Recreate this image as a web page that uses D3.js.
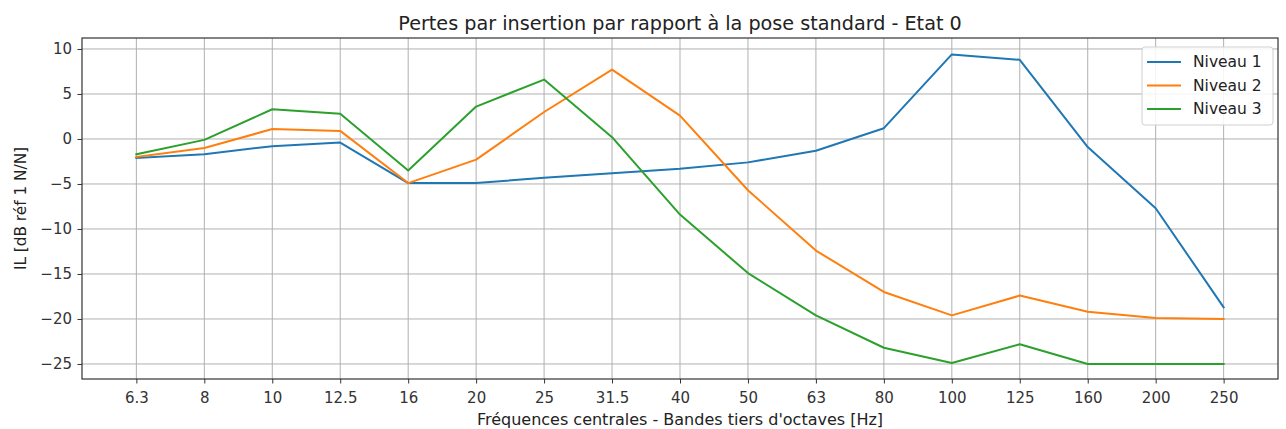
<!DOCTYPE html>
<html>
<head>
<meta charset="utf-8">
<script src="https://cdn.jsdelivr.net/npm/d3@7"></script>
<style>
  html, body { margin: 0; padding: 0; background: #fff; }
  svg { display: block; font-family: "DejaVu Sans", sans-serif; }
</style>
</head>
<body>
<svg id="chart" width="1286" height="429"></svg>
<script>
const categories = ["6.3","8","10","12.5","16","20","25","31.5","40","50","63","80","100","125","160","200","250"];
const niveau1 = [-2.1,-1.7,-0.8,-0.4,-4.9,-4.9,-4.3,-3.8,-3.3,-2.6,-1.3,1.2,9.4,8.8,-0.9,-7.7,-18.7];
const niveau2 = [-2.0,-1.0,1.1,0.9,-4.9,-2.3,3.0,7.7,2.6,-5.7,-12.4,-17.0,-19.6,-17.4,-19.2,-19.9,-20.0];
const niveau3 = [-1.7,-0.1,3.3,2.8,-3.5,3.6,6.6,0.2,-8.4,-14.9,-19.6,-23.2,-24.9,-22.8,-25.0,-25.0,-25.0];
const seriesNames = ["Niveau 1","Niveau 2","Niveau 3"];
const seriesColors = ["#1f77b4","#ff7f0e","#2ca02c"];
const yTicks = [10,5,0,-5,-10,-15,-20,-25];
const title = "Pertes par insertion par rapport à la pose standard - Etat 0";
const xTitle = "Fréquences centrales - Bandes tiers d'octaves [Hz]";
const yTitle = "IL [dB réf 1 N/N]";

const series = [niveau1, niveau2, niveau3];
const svg = d3.select("#chart");
const L = 82, R = 1278, T = 38, B = 379;

const x = d3.scaleLinear().domain([-0.8, categories.length - 1 + 0.8]).range([L, R]);
const y = d3.scaleLinear().domain([-26.67, 11.22]).range([B, T]);

// grid
const g = svg.append("g");
g.selectAll(".vg").data(categories).enter().append("line")
  .attr("x1", (d,i) => x(i)).attr("x2", (d,i) => x(i))
  .attr("y1", T).attr("y2", B)
  .attr("stroke", "#b0b0b0").attr("stroke-width", 1);
g.selectAll(".hg").data(yTicks).enter().append("line")
  .attr("x1", L).attr("x2", R)
  .attr("y1", d => y(d)).attr("y2", d => y(d))
  .attr("stroke", "#b0b0b0").attr("stroke-width", 1);

// lines
const line = d3.line().x((d,i) => x(i)).y(d => y(d));
series.forEach((s, k) => {
  svg.append("path").datum(s)
    .attr("d", line)
    .attr("fill", "none")
    .attr("stroke", seriesColors[k])
    .attr("stroke-width", 2)
    .attr("stroke-linejoin", "round")
    .attr("stroke-linecap", "square");
});

// frame
svg.append("rect").attr("x", L).attr("y", T).attr("width", R - L).attr("height", B - T)
  .attr("fill", "none").attr("stroke", "#333").attr("stroke-width", 1.2);

// axes
const xAxis = d3.axisBottom(x)
  .tickValues(d3.range(categories.length))
  .tickFormat(i => categories[i])
  .tickSize(4.5).tickPadding(9);
const xa = svg.append("g").attr("transform", `translate(0,${B})`).call(xAxis);
xa.select(".domain").remove();
xa.selectAll("line").attr("stroke", "#333");
xa.selectAll("text").attr("font-size", 15).attr("fill", "#333").attr("font-family", "DejaVu Sans");

const yAxis = d3.axisLeft(y).tickValues(yTicks)
  .tickFormat(d => d < 0 ? "\u2212" + Math.abs(d) : String(d))
  .tickSize(4.5).tickPadding(5.5);
const ya = svg.append("g").attr("transform", `translate(${L},0)`).call(yAxis);
ya.select(".domain").remove();
ya.selectAll("line").attr("stroke", "#333");
ya.selectAll("text").attr("font-size", 15).attr("fill", "#333").attr("font-family", "DejaVu Sans");

// titles
svg.append("text").attr("x", (L + R) / 2).attr("y", 29.5)
  .attr("text-anchor", "middle").attr("font-size", 19.2).attr("fill", "#222")
  .text(title);
svg.append("text").attr("x", (L + R) / 2).attr("y", 425)
  .attr("text-anchor", "middle").attr("font-size", 16).attr("fill", "#222")
  .text(xTitle);
svg.append("text").attr("transform", `translate(26,${(T + B) / 2}) rotate(-90)`)
  .attr("text-anchor", "middle").attr("font-size", 15.3).attr("fill", "#222")
  .text(yTitle);

// legend
const lg = svg.append("g");
lg.append("rect").attr("x", 1142).attr("y", 47).attr("width", 131).attr("height", 78)
  .attr("rx", 3).attr("fill", "#fff").attr("fill-opacity", 0.85)
  .attr("stroke", "#d0d0d0").attr("stroke-width", 1);
seriesNames.forEach((n, k) => {
  const yy = 62 + k * 23.5;
  lg.append("line").attr("x1", 1147).attr("x2", 1181).attr("y1", yy).attr("y2", yy)
    .attr("stroke", seriesColors[k]).attr("stroke-width", 2);
  lg.append("text").attr("x", 1193).attr("y", yy).attr("dy", "0.35em")
    .attr("font-size", 15.5).attr("fill", "#222").text(n);
});
</script>
</body>
</html>
